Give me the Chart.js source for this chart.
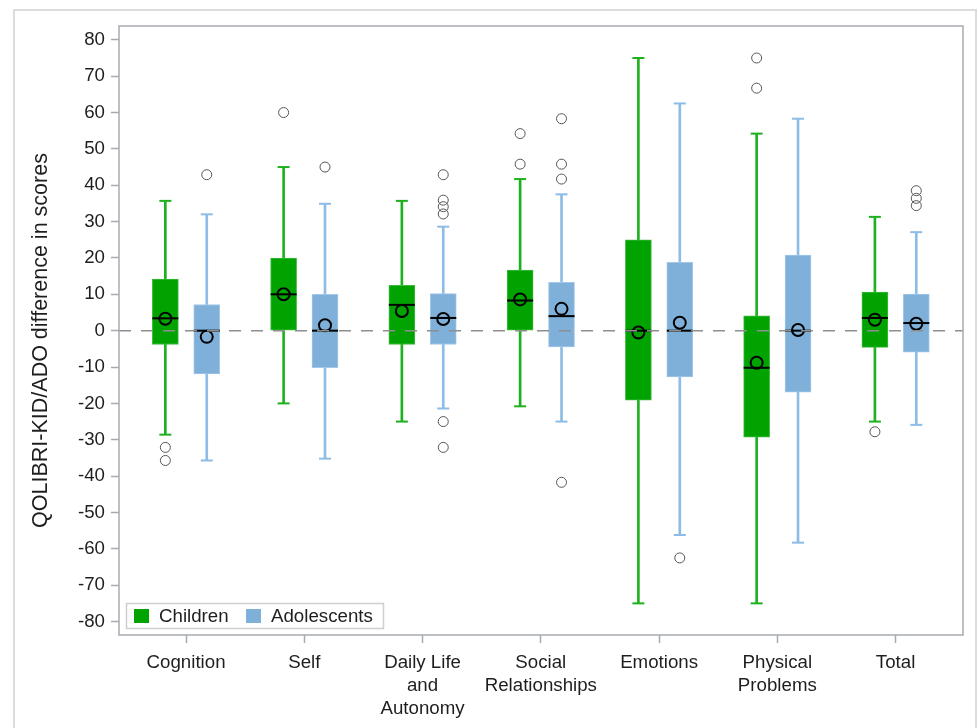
<!DOCTYPE html>
<html>
<head>
<meta charset="utf-8">
<script src="https://cdn.jsdelivr.net/npm/chart.js@4/dist/chart.umd.min.js"></script>
<style>
  html, body { margin: 0; padding: 0; background: #fff; }
  #wrap { position: relative; width: 978px; height: 728px; overflow: hidden; }
  #frame { position: absolute; left: 13px; top: 9px; width: 964px; height: 760px; border: 2px solid #dcdcdc; box-sizing: border-box; }
  #c { position: absolute; left: 0; top: 0; }
</style>
</head>
<body>
<div id="wrap">
  <div id="frame"></div>
  <canvas id="c" width="978" height="728"></canvas>
</div>
<script>
// Domains on the category axis (multi-line labels as arrays)
const categories = [
  ['Cognition'], ['Self'], ['Daily Life', 'and', 'Autonomy'],
  ['Social', 'Relationships'], ['Emotions'], ['Physical', 'Problems'], ['Total']
];
const seriesNames = ['Children', 'Adolescents'];
const yTicks = [80, 70, 60, 50, 40, 30, 20, 10, 0, -10, -20, -30, -40, -50, -60, -70, -80];

// Children: box-plot statistics per domain
const childLow    = [-28.6, -20.0, -25.0, -20.8, -75.0, -75.0, -25.0];
const childQ1     = [-3.8,   0.0,  -3.8,   0.0, -19.1, -29.3,  -4.6];
const childMedian = [ 3.4,  10.0,   7.1,   8.3,   0.0, -10.2,   3.5];
const childQ3     = [14.2,  20.0,  12.5,  16.7,  25.0,   4.1,  10.6];
const childHigh   = [35.7,  45.0,  35.7,  41.7,  75.0,  54.2,  31.3];
const childMean   = [ 3.3,  10.0,   5.4,   8.6,  -0.5,  -8.8,   3.0];
const childOutliers = [[-32.1, -35.7], [60.0], [], [54.2, 45.8], [], [75.0, 66.7], [-27.8]];

// Adolescents: box-plot statistics per domain
const adoLow    = [-35.7, -35.2, -21.4, -25.0, -56.2, -58.3, -25.9];
const adoQ1     = [-11.9, -10.2,  -3.8,  -4.5, -12.7, -16.9,  -5.9];
const adoMedian = [  0.0,   0.0,   3.5,   4.0,   0.0,   0.0,   2.1];
const adoQ3     = [  7.2,  10.0,  10.2,  13.3,  18.8,  20.8,  10.1];
const adoHigh   = [ 32.0,  34.9,  28.6,  37.5,  62.5,  58.3,  27.1];
const adoMean   = [ -1.7,   1.5,   3.2,   6.0,   2.2,   0.2,   1.9];
const adoOutliers = [[42.9], [45.0], [42.9, 35.9, 34.1, 32.1, -25.0, -32.1], [58.3, 45.8, 41.7, -41.7], [-62.5], [], [38.5, 36.4, 34.4]];

const FONT = "'Liberation Sans', Arial, sans-serif";
const TEXT = '#1e1e1e';
const AXIS = '#a6abb0';
const GREEN = '#00a300', GREEN_EDGE = '#3dba3d', GREEN_LINE = '#1fb01f';
const BLUE = '#7fb0da', BLUE_EDGE = '#a3c7e8', BLUE_LINE = '#8dbce6';
const SHIFT = 0.175; // horizontal offset of each group's box from the domain centre

const pts = (shift, arr) => arr.map((v, i) => ({ x: i + shift, y: v }));
const spans = (shift, a, b) => a.map((v, i) => ({ x: i + shift, y: [v, b[i]] }));
const scatterOut = (shift, lists) => lists.flatMap((vals, i) => vals.map(v => ({ x: i + shift, y: v })));

const markerSet = (data, opts) => Object.assign({ type: 'scatter', data, showLine: false }, opts);

const datasets = [
  // means (drawn on top)
  markerSet(pts(-SHIFT, childMean), { pointStyle: 'circle', pointRadius: 6, pointBorderWidth: 2, pointBorderColor: '#000', pointBackgroundColor: 'rgba(0,0,0,0)' }),
  markerSet(pts(SHIFT, adoMean), { pointStyle: 'circle', pointRadius: 6, pointBorderWidth: 2, pointBorderColor: '#000', pointBackgroundColor: 'rgba(0,0,0,0)' }),
  // medians
  markerSet(pts(-SHIFT, childMedian), { pointStyle: 'line', pointRadius: 13, pointBorderWidth: 2, pointBorderColor: '#000' }),
  markerSet(pts(SHIFT, adoMedian), { pointStyle: 'line', pointRadius: 13, pointBorderWidth: 2, pointBorderColor: '#000' }),
  // outliers
  markerSet(scatterOut(-SHIFT, childOutliers), { pointStyle: 'circle', pointRadius: 5, pointBorderWidth: 1, pointBorderColor: '#555', pointBackgroundColor: 'rgba(0,0,0,0)' }),
  markerSet(scatterOut(SHIFT, adoOutliers), { pointStyle: 'circle', pointRadius: 5, pointBorderWidth: 1, pointBorderColor: '#555', pointBackgroundColor: 'rgba(0,0,0,0)' }),
  // whisker caps
  markerSet(pts(-SHIFT, childLow).concat(pts(-SHIFT, childHigh)), { pointStyle: 'line', pointRadius: 6, pointBorderWidth: 2, pointBorderColor: GREEN_LINE }),
  markerSet(pts(SHIFT, adoLow).concat(pts(SHIFT, adoHigh)), { pointStyle: 'line', pointRadius: 6, pointBorderWidth: 2, pointBorderColor: BLUE_LINE }),
  // boxes Q1..Q3
  { type: 'bar', label: seriesNames[0], data: spans(-SHIFT, childQ1, childQ3), backgroundColor: GREEN, borderColor: GREEN_EDGE, borderWidth: 1, borderSkipped: false, barThickness: 26, grouped: false },
  { type: 'bar', label: seriesNames[1], data: spans(SHIFT, adoQ1, adoQ3), backgroundColor: BLUE, borderColor: BLUE_EDGE, borderWidth: 1, borderSkipped: false, barThickness: 26, grouped: false },
  // whisker stems low..high
  { type: 'bar', data: spans(-SHIFT, childLow, childHigh), backgroundColor: GREEN_LINE, borderWidth: 0, barThickness: 2, grouped: false },
  { type: 'bar', data: spans(SHIFT, adoLow, adoHigh), backgroundColor: BLUE_LINE, borderWidth: 0, barThickness: 2, grouped: false }
];

const decor = {
  id: 'decor',
  afterDatasetsDraw(chart) {
    const { ctx, chartArea: a, scales: { y } } = chart;
    const y0 = y.getPixelForValue(0);
    ctx.save();
    ctx.strokeStyle = '#8e8e8e';
    ctx.lineWidth = 1.5;
    ctx.setLineDash([12, 10]);
    ctx.beginPath();
    ctx.moveTo(a.left, y0);
    ctx.lineTo(a.right, y0);
    ctx.stroke();
    ctx.restore();
  },
  afterDraw(chart) {
    const { ctx, chartArea: a } = chart;
    ctx.save();
    // plot frame
    ctx.strokeStyle = AXIS;
    ctx.lineWidth = 1.5;
    ctx.strokeRect(a.left, a.top, a.right - a.left, a.bottom - a.top);

    // y-axis title
    ctx.save();
    ctx.translate(41, (a.top + a.bottom) / 2 + 10);
    ctx.rotate(-Math.PI / 2);
    ctx.fillStyle = TEXT;
    ctx.font = `21.5px ${FONT}`;
    ctx.textAlign = 'center';
    ctx.textBaseline = 'middle';
    ctx.fillText('QOLIBRI-KID/ADO difference in scores', 0, 0);
    ctx.restore();

    // legend inside the plot, bottom-left
    const lx = a.left + 7, ly = a.bottom - 32;
    ctx.fillStyle = '#fff';
    ctx.fillRect(lx, ly, 257, 25);
    ctx.strokeStyle = '#cfcfcf';
    ctx.lineWidth = 1.5;
    ctx.strokeRect(lx + 0.5, ly + 0.5, 257, 25);
    const items = [[GREEN, seriesNames[0], 8], [BLUE, seriesNames[1], 120]];
    ctx.font = `18.7px ${FONT}`;
    ctx.textBaseline = 'middle';
    ctx.textAlign = 'left';
    for (const [col, name, dx] of items) {
      ctx.fillStyle = col;
      ctx.fillRect(lx + dx, ly + 6, 15, 14);
      ctx.fillStyle = TEXT;
      ctx.fillText(name, lx + dx + 25, ly + 13.5);
    }
    ctx.restore();
  }
};

new Chart(document.getElementById('c'), {
  type: 'scatter',
  data: { datasets },
  options: {
    responsive: false,
    animation: false,
    events: [],
    layout: { padding: { top: 26, right: 14, left: 0, bottom: 0 } },
    plugins: { legend: { display: false }, tooltip: { enabled: false } },
    scales: {
      x: {
        type: 'linear',
        min: -0.567,
        max: 6.57,
        offset: false,
        afterBuildTicks: s => { s.ticks = categories.map((c, i) => ({ value: i })); },
        afterFit: s => { s.height = 93; },
        grid: { offset: false, drawOnChartArea: false, drawTicks: true, tickLength: 8, tickColor: AXIS, tickWidth: 1.5 },
        border: { display: false },
        ticks: {
          autoSkip: false, maxRotation: 0, padding: 8, color: TEXT,
          font: { size: 18.7, family: FONT, lineHeight: 1.23 },
          callback: v => categories[v]
        }
      },
      y: {
        type: 'linear',
        min: -83.7,
        max: 83.8,
        afterBuildTicks: s => { s.ticks = yTicks.map(v => ({ value: v })); },
        afterFit: s => { s.width = 119; },
        grid: { drawOnChartArea: false, drawTicks: true, tickLength: 8, tickColor: AXIS, tickWidth: 1.5 },
        border: { display: false },
        ticks: { padding: 6, color: TEXT, font: { size: 18.7, family: FONT }, callback: v => String(v) }
      }
    }
  },
  plugins: [decor]
});
</script>
</body>
</html>
